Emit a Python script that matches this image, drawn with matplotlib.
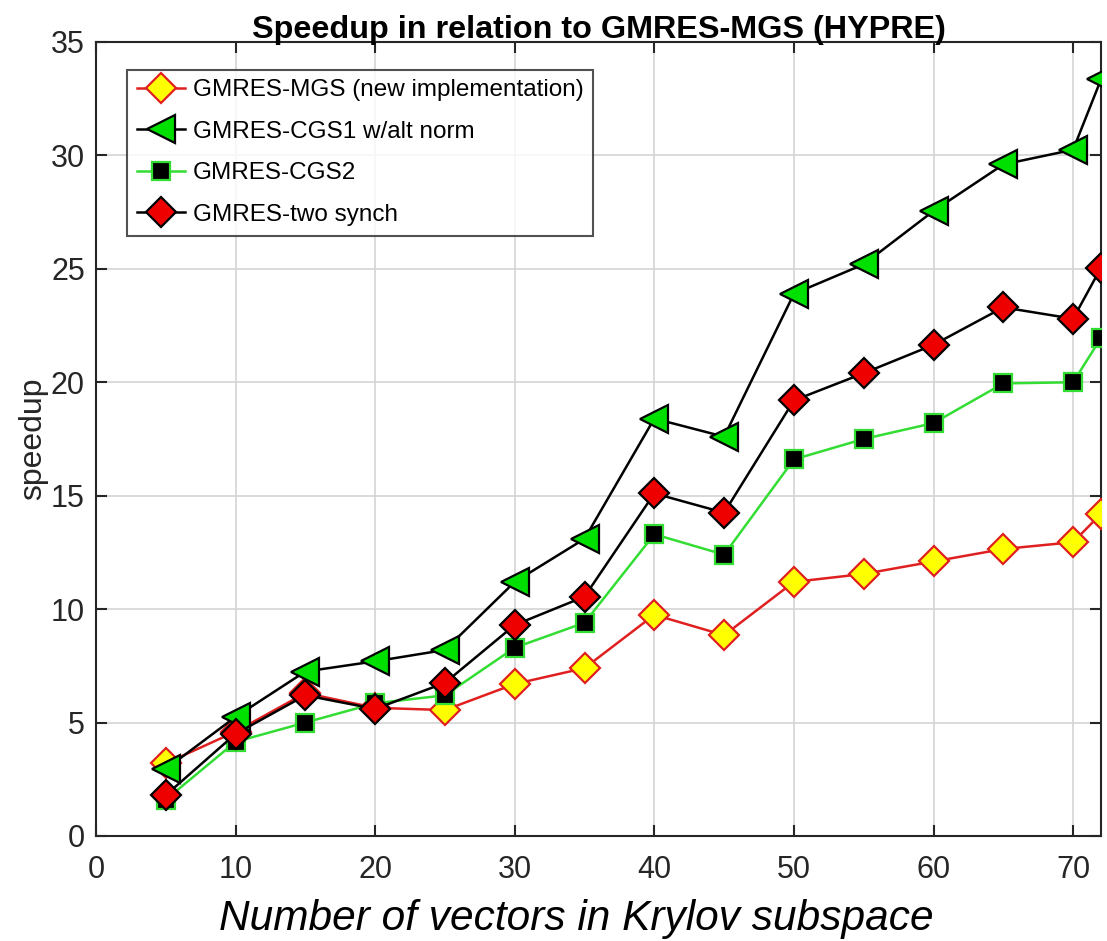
import matplotlib
matplotlib.use('Agg')
import matplotlib.pyplot as plt

plt.rcParams['font.family'] = ['Liberation Sans', 'DejaVu Sans']

# numero de vectores en el subespacio de Krylov
x = [5, 10, 15, 20, 25, 30, 35, 40, 45, 50, 55, 60, 65, 70, 72]

# speedup respecto a GMRES-MGS (HYPRE)
mgs = [3.2, 4.6, 6.3, 5.65, 5.55, 6.7, 7.4, 9.75, 8.85, 11.2, 11.55, 12.1, 12.65, 12.95, 14.2]
cgs1 = [2.95, 5.25, 7.25, 7.7, 8.2, 11.2, 13.1, 18.4, 17.6, 23.9, 25.2, 27.55, 29.6, 30.25, 33.35]
cgs2 = [1.6, 4.15, 5.0, 5.85, 6.2, 8.3, 9.4, 13.3, 12.4, 16.6, 17.5, 18.2, 19.95, 20.0, 21.95]
two_synch = [1.8, 4.5, 6.2, 5.6, 6.75, 9.3, 10.55, 15.1, 14.25, 19.2, 20.4, 21.65, 23.3, 22.8, 25.05]

labels = ['GMRES-MGS (new implementation)', 'GMRES-CGS1 w/alt norm',
          'GMRES-CGS2', 'GMRES-two synch']

fig = plt.figure(figsize=(11.07, 9.41), dpi=100)
ax = fig.add_axes([0.0867, 0.1116, 0.9079, 0.8438])

ax.plot(x, mgs, color='#e02020', lw=1.8, marker='D', ms=15, mfc='#ffff00',
        mec='#e02020', mew=1.6, label=labels[0], zorder=3)
ax.plot(x, cgs1, color='black', lw=1.8, marker='<', ms=20, mfc='#00e000',
        mec='black', mew=1.6, label=labels[1], zorder=4)
ax.plot(x, cgs2, color='#33dd33', lw=1.8, marker='s', ms=13, mfc='black',
        mec='#33dd33', mew=1.6, label=labels[2], zorder=3)
ax.plot(x, two_synch, color='black', lw=1.8, marker='D', ms=15, mfc='#ee0000',
        mec='black', mew=1.6, label=labels[3], zorder=4)

ax.set_xlim(0, 72)
ax.set_ylim(0, 35)
ax.set_xticks(range(0, 71, 10))
ax.set_yticks(range(0, 36, 5))
ax.grid(True, color='#d4d4d4', lw=1.2)
ax.set_axisbelow(True)
ax.tick_params(direction='in', top=True, right=True, length=8, width=1.5,
               labelsize=22, labelcolor='#262626', color='#262626')
ax.tick_params(axis='x', pad=14)
ax.tick_params(axis='y', pad=8)
for s in ax.spines.values():
    s.set_color('#262626')
    s.set_linewidth(1.5)

ax.set_title('Speedup in relation to GMRES-MGS (HYPRE)', fontsize=23.3,
             fontweight='bold', pad=3)
ax.set_ylabel('speedup', fontsize=23, color='#262626', labelpad=2)
ax.set_xlabel('Number of vectors in Krylov subspace', fontsize=30.5,
              style='italic')
ax.xaxis.set_label_coords(0.478, -0.079)

leg = ax.legend(loc='upper left', bbox_to_anchor=(0.031, 0.965), fontsize=17.5,
                frameon=True, fancybox=False, edgecolor='#262626',
                handlelength=2.0, handletextpad=0.3, borderpad=0.4,
                labelspacing=0.8, borderaxespad=0)
leg.get_frame().set_linewidth(1.5)

fig.savefig('out.png', dpi=100)
